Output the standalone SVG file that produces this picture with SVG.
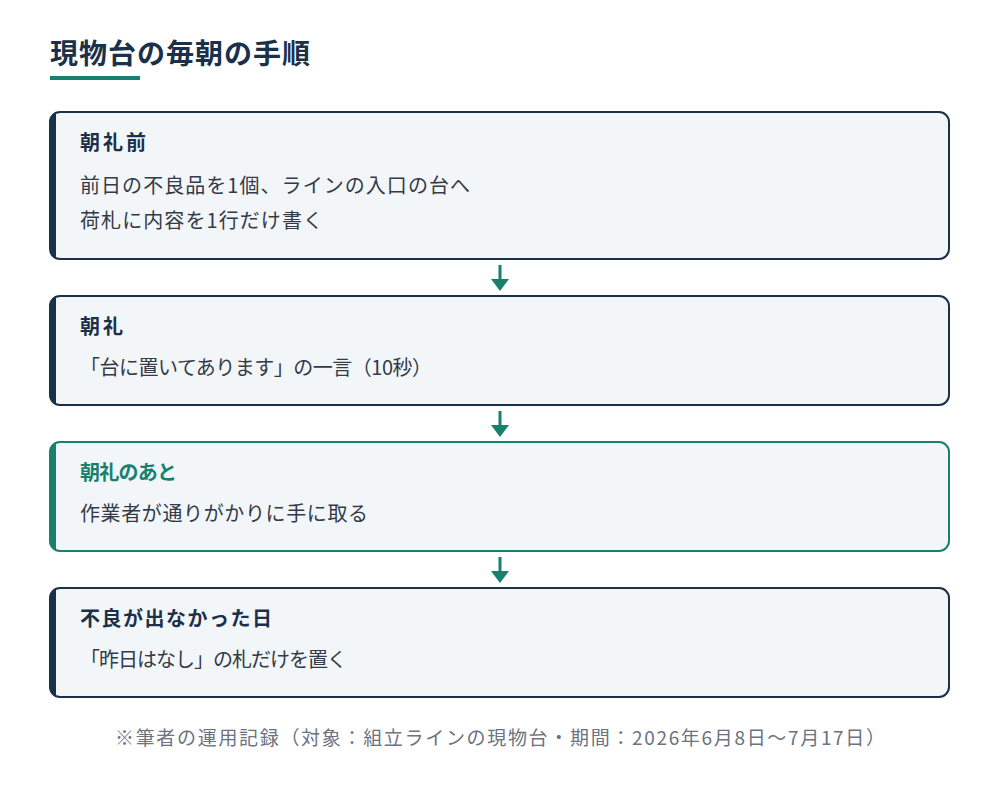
<svg xmlns="http://www.w3.org/2000/svg" width="1000" height="796" viewBox="0 0 1000 796">
<style>
text{font-family:"Noto Sans CJK JP","Noto Sans",sans-serif}
.title{font-size:28px;font-weight:700;fill:#1b3049}
.box{fill:#f3f6f9;stroke:#1b3049;stroke-width:2}
.box.hl{stroke:#17806f}
.bar{fill:#1b3049}
.bar.hl{fill:#17806f}
.h{font-size:20px;font-weight:700;fill:#1b3049}
.h.hl{fill:#17806f}
.b{font-size:20px;fill:#333b47}
.conn{stroke:#17806f;stroke-width:3}
.foot{font-size:19px;fill:#6b7280}
</style>
<defs>
<clipPath id="c1"><rect x="50" y="112" width="899" height="147" rx="10"/></clipPath>
<clipPath id="c2"><rect x="50" y="296" width="899" height="109" rx="10"/></clipPath>
<clipPath id="c3"><rect x="50" y="442" width="899" height="109" rx="10"/></clipPath>
<clipPath id="c4"><rect x="50" y="588" width="899" height="109" rx="10"/></clipPath>
</defs>
<rect width="1000" height="796" fill="#ffffff"/>
<g id="title">
<text class="title" x="50" y="64" textLength="260" lengthAdjust="spacing">現物台の毎朝の手順</text>
<rect x="50" y="76" width="90" height="4" fill="#17806f"/>
</g>
<g id="connectors">
<line class="conn" x1="500" y1="265" x2="500" y2="281"/>
<polygon points="491,279 509,279 500,291" fill="#17806f"/>
<line class="conn" x1="500" y1="411" x2="500" y2="427"/>
<polygon points="491,425 509,425 500,437" fill="#17806f"/>
<line class="conn" x1="500" y1="557" x2="500" y2="573"/>
<polygon points="491,571 509,571 500,583" fill="#17806f"/>
</g>
<g id="node1">
<rect class="box" x="50" y="112" width="899" height="147" rx="10"/>
<rect class="bar" x="50" y="112" width="6" height="147" clip-path="url(#c1)"/>
<text class="h" x="80" y="150" textLength="66" lengthAdjust="spacing">朝礼前</text>
<text class="b" x="80" y="193" textLength="390" lengthAdjust="spacing">前日の不良品を1個、ラインの入口の台へ</text>
<text class="b" x="80" y="228" textLength="243" lengthAdjust="spacing">荷札に内容を1行だけ書く</text>
</g>
<g id="node2">
<rect class="box" x="50" y="296" width="899" height="109" rx="10"/>
<rect class="bar" x="50" y="296" width="6" height="109" clip-path="url(#c2)"/>
<text class="h" x="80" y="334" textLength="43" lengthAdjust="spacing">朝礼</text>
<text class="b" x="80" y="375" textLength="352" lengthAdjust="spacing">「台に置いてあります」の一言（10秒）</text>
</g>
<g id="node3">
<rect class="box hl" x="50" y="442" width="899" height="109" rx="10"/>
<rect class="bar hl" x="50" y="442" width="6" height="109" clip-path="url(#c3)"/>
<text class="h hl" x="80" y="480" textLength="97" lengthAdjust="spacing">朝礼のあと</text>
<text class="b" x="80" y="521" textLength="288" lengthAdjust="spacing">作業者が通りがかりに手に取る</text>
</g>
<g id="node4">
<rect class="box" x="50" y="588" width="899" height="109" rx="10"/>
<rect class="bar" x="50" y="588" width="6" height="109" clip-path="url(#c4)"/>
<text class="h" x="80" y="626" textLength="192" lengthAdjust="spacing">不良が出なかった日</text>
<text class="b" x="80" y="667" textLength="267" lengthAdjust="spacing">「昨日はなし」の札だけを置く</text>
</g>
<g id="footer">
<text class="foot" x="115" y="745" textLength="770" lengthAdjust="spacing">※筆者の運用記録（対象：組立ラインの現物台・期間：2026年6月8日〜7月17日）</text>
</g>
</svg>
